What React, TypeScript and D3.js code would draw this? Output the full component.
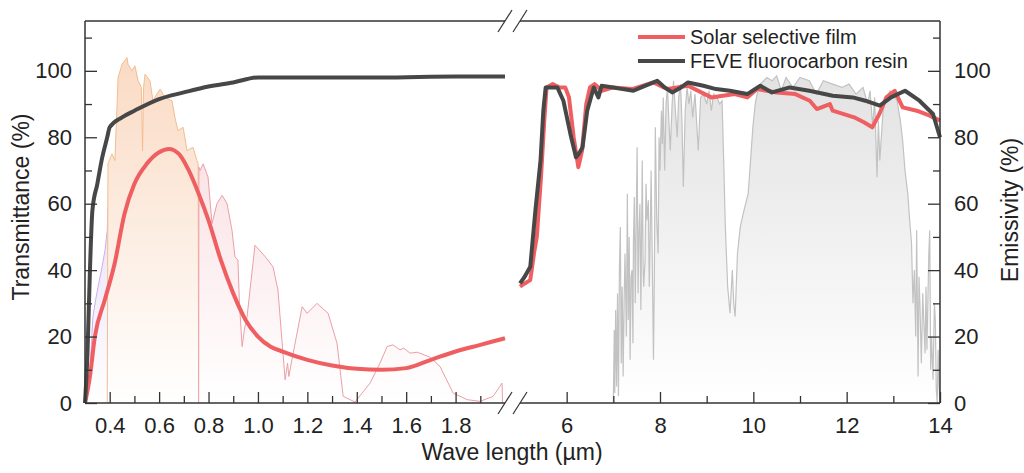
import React, { useEffect, useRef } from 'react';
import * as d3 from 'd3';

// solar spectrum bands, [wavelength µm, relative value]
const uvBand: [number, number][] = [
  [0.3, 0], [0.31, 2], [0.32, 10], [0.332, 26], [0.343, 31], [0.353, 35], [0.369, 41],
  [0.381, 46], [0.39, 52], [0.395, 62], [0.399, 62], [0.4, 0],
];
const visBand: [number, number][] = [
  [0.39, 0], [0.393, 72], [0.409, 75], [0.421, 73], [0.434, 98], [0.45, 102], [0.47, 104],
  [0.474, 102], [0.49, 100], [0.502, 101.5], [0.515, 97], [0.528, 95], [0.533, 76], [0.537, 95],
  [0.543, 99], [0.563, 97], [0.575, 91], [0.591, 93], [0.604, 94.5], [0.624, 92], [0.652, 91],
  [0.664, 86], [0.676, 82], [0.697, 83], [0.713, 76], [0.737, 77], [0.753, 73], [0.758, 72], [0.76, 0],
];
const nirBand: [number, number][] = [
  [0.76, 0], [0.761, 71], [0.766, 70], [0.778, 72], [0.798, 68], [0.814, 54], [0.834, 60],
  [0.855, 62.5], [0.875, 60], [0.895, 52], [0.907, 44], [0.919, 43], [0.925, 30], [0.936, 17],
  [0.945, 22], [0.956, 26], [0.988, 47.5], [1.03, 44], [1.061, 41], [1.081, 34], [1.11, 7],
  [1.12, 12], [1.125, 8], [1.14, 14], [1.179, 29], [1.199, 27], [1.239, 30], [1.284, 27],
  [1.32, 18], [1.345, 2], [1.393, 0.3], [1.454, 6], [1.494, 12], [1.523, 17], [1.547, 17.5],
  [1.575, 16], [1.59, 16.5], [1.616, 15], [1.644, 15.3], [1.697, 13.8], [1.737, 11], [1.79, 3],
  [1.847, 1], [1.899, 0.5], [1.952, 2], [1.988, 6], [1.99, 0],
];

// atmospheric window (grey)
const atmWindow: [number, number][] = [
  [7.0, 0], [7.02, 22], [7.03, 3], [7.05, 28], [7.07, 5], [7.09, 33], [7.11, 2], [7.13, 40],
  [7.15, 53], [7.17, 12], [7.19, 35], [7.21, 8], [7.23, 30], [7.25, 45], [7.28, 20], [7.3, 63],
  [7.32, 25], [7.34, 50], [7.36, 13], [7.38, 38], [7.4, 40], [7.42, 18], [7.43, 48], [7.45, 62],
  [7.47, 30], [7.49, 55], [7.51, 77], [7.53, 33], [7.55, 52], [7.57, 60], [7.59, 28], [7.62, 73],
  [7.64, 40], [7.65, 35], [7.68, 43], [7.7, 66], [7.72, 55], [7.75, 61], [7.77, 35], [7.79, 51],
  [7.81, 70], [7.83, 48], [7.86, 13], [7.88, 40], [7.9, 83], [7.93, 55], [7.96, 45], [7.98, 80],
  [8.0, 70], [8.03, 88], [8.05, 78], [8.07, 92], [8.1, 70], [8.13, 90], [8.16, 95], [8.19, 85],
  [8.22, 76], [8.26, 90], [8.29, 97], [8.33, 88], [8.37, 80], [8.4, 92], [8.44, 96], [8.47, 85],
  [8.5, 65], [8.54, 88], [8.58, 95], [8.62, 90], [8.66, 94], [8.7, 86], [8.75, 93], [8.82, 76],
  [8.87, 92], [8.93, 93], [9.0, 90], [9.05, 94], [9.1, 88], [9.15, 93], [9.22, 92], [9.28, 90],
  [9.33, 91], [9.37, 70], [9.4, 53], [9.45, 35], [9.5, 27], [9.55, 40], [9.58, 30], [9.61, 26],
  [9.66, 45], [9.72, 53], [9.8, 58], [9.89, 63], [9.95, 75], [9.99, 83], [10.04, 90], [10.08, 93],
  [10.15, 96], [10.29, 98], [10.4, 97], [10.5, 98.5], [10.6, 94], [10.7, 98], [10.85, 95],
  [11.0, 98], [11.2, 97], [11.35, 93], [11.5, 97], [11.7, 96], [11.9, 95], [12.05, 96],
  [12.2, 93], [12.35, 95], [12.45, 90], [12.5, 94], [12.56, 83], [12.6, 92], [12.65, 68],
  [12.68, 85], [12.71, 73], [12.78, 88], [12.85, 92], [12.93, 94], [13.0, 93], [13.08, 91],
  [13.15, 85], [13.2, 79], [13.25, 70], [13.31, 63], [13.35, 55], [13.39, 48], [13.42, 30],
  [13.45, 40], [13.48, 20], [13.5, 52], [13.53, 8], [13.55, 38], [13.57, 30], [13.6, 12],
  [13.63, 33], [13.66, 22], [13.68, 15], [13.7, 35], [13.72, 16], [13.76, 45], [13.78, 52],
  [13.8, 10], [13.82, 20], [13.85, 7], [13.88, 30], [13.9, 25], [13.92, 4], [13.94, 0],
  [13.96, 16], [13.98, 5], [14.0, 0],
];

// transmittance, 0.3-2.0 µm
const filmTransVis: [number, number][] = [
  [0.3, 0], [0.32, 8], [0.34, 20], [0.38, 31], [0.42, 42], [0.46, 57], [0.5, 66], [0.55, 72],
  [0.6, 75.5], [0.64, 76.5], [0.68, 75], [0.72, 70], [0.76, 63], [0.8, 55], [0.85, 43], [0.9, 33],
  [0.95, 25], [1.0, 20], [1.05, 17], [1.1, 15.5], [1.2, 13], [1.3, 11.3], [1.4, 10.3], [1.5, 10],
  [1.6, 10.5], [1.7, 13], [1.8, 15.5], [1.9, 17.5], [2.0, 19.5],
];
const resinTransVis: [number, number][] = [
  [0.3, 0], [0.31, 15], [0.32, 40], [0.33, 58], [0.35, 66], [0.37, 74], [0.39, 80], [0.4, 83],
  [0.45, 86], [0.5, 88], [0.6, 91.5], [0.7, 93.5], [0.8, 95.3], [0.9, 96.5], [1.0, 98],
  [1.2, 98], [1.5, 98], [1.8, 98.3], [2.0, 98.3],
];

// emissivity, 5-14 µm
const filmEmis: [number, number][] = [
  [5.0, 35], [5.1, 36], [5.22, 37], [5.3, 45], [5.36, 50], [5.45, 68], [5.52, 85], [5.57, 95],
  [5.7, 96], [5.85, 95], [5.97, 95], [6.05, 92], [6.15, 80], [6.25, 71], [6.33, 76], [6.42, 90],
  [6.5, 95], [6.6, 96], [6.75, 94], [7.0, 95], [7.4, 94.5], [7.86, 96.5], [8.16, 94.5],
  [8.6, 95.5], [9.1, 92], [9.6, 93], [9.87, 92], [10.08, 94.5], [10.5, 93.5], [10.9, 93],
  [11.21, 91], [11.36, 88.5], [11.64, 90], [11.7, 88], [12.16, 86], [12.37, 84.5], [12.55, 83],
  [12.7, 87], [12.85, 92], [13.03, 94], [13.2, 89], [13.5, 88], [13.78, 86.5], [14.0, 85],
];
const resinEmis: [number, number][] = [
  [5.0, 36], [5.1, 38], [5.22, 41], [5.33, 58], [5.44, 73], [5.5, 88], [5.55, 95], [5.7, 95],
  [5.8, 95], [5.93, 91], [6.08, 81], [6.2, 74], [6.26, 75], [6.34, 77], [6.44, 88], [6.58, 95],
  [6.68, 92], [6.75, 95.5], [7.0, 95], [7.2, 94.5], [7.43, 94], [7.6, 95], [7.86, 96.5],
  [7.94, 97], [8.1, 95], [8.26, 93.5], [8.45, 95], [8.6, 96.5], [8.93, 95.5], [9.2, 94.5],
  [9.5, 94], [9.87, 93], [10.15, 95.5], [10.4, 93.5], [10.78, 95], [11.2, 94], [11.7, 92.5],
  [12.13, 92], [12.4, 91], [12.71, 89.5], [12.95, 92], [13.25, 94], [13.56, 91], [13.85, 87],
  [14.0, 80],
];

const leftMajor = [0.4, 0.6, 0.8, 1.0, 1.2, 1.4, 1.6, 1.8];
const leftMinor = [0.5, 0.7, 0.9, 1.1, 1.3, 1.5, 1.7, 1.9];
const rightMajor = [6, 8, 10, 12, 14];
const rightMinor = [7, 9, 11, 13];
const yMajor = [0, 20, 40, 60, 80, 100];
const yMinor = [10, 30, 50, 70, 90, 110];

const legendItems = [
  { label: 'Solar selective film', color: '#ef5f62' },
  { label: 'FEVE fluorocarbon resin', color: '#474747' },
];

const FONT = '"Liberation Sans", Arial, sans-serif';

export default function App() {
  const ref = useRef<SVGSVGElement>(null);

  useEffect(() => {
    const svg = d3.select(ref.current);
    svg.selectAll('*').remove();

    const top = 21;
    const bottom = 403;
    const xL = d3.scaleLinear().domain([0.3, 2.0]).range([85, 505]);
    const xR = d3.scaleLinear().domain([5, 14]).range([520, 940]);
    const y = d3.scaleLinear().domain([0, 115]).range([bottom, top]);

    const defs = svg.append('defs');
    const grad = (id: string, color: string) => {
      const g = defs.append('linearGradient').attr('id', id)
        .attr('gradientUnits', 'userSpaceOnUse')
        .attr('x1', 0).attr('x2', 0).attr('y1', y(100)).attr('y2', y(0));
      g.append('stop').attr('offset', 0).attr('stop-color', color);
      g.append('stop').attr('offset', 1).attr('stop-color', '#ffffff');
    };
    grad('gUv', '#dccbf4');
    grad('gVis', '#fadcc6');
    grad('gNir', '#f8d8dc');
    grad('gAtm', '#e2e2e2');

    const areaL = d3.area<[number, number]>().x(d => xL(d[0])).y0(y(0)).y1(d => y(d[1]));
    const areaR = d3.area<[number, number]>().x(d => xR(d[0])).y0(y(0)).y1(d => y(d[1]));
    const lineL = d3.line<[number, number]>().x(d => xL(d[0])).y(d => y(d[1]));
    const smoothL = d3.line<[number, number]>().x(d => xL(d[0])).y(d => y(d[1])).curve(d3.curveMonotoneX);
    const lineR = d3.line<[number, number]>().x(d => xR(d[0])).y(d => y(d[1]));

    const bands: [[number, number][], string, string][] = [
      [uvBand, 'gUv', '#c9b0ee'],
      [visBand, 'gVis', '#f3bd90'],
      [nirBand, 'gNir', '#eb9fa6'],
    ];
    bands.forEach(([data, id, stroke]) => {
      svg.append('path').attr('d', areaL(data)).attr('fill', `url(#${id})`);
      svg.append('path').attr('d', lineL(data)).attr('fill', 'none')
        .attr('stroke', stroke).attr('stroke-width', 1);
    });

    svg.append('path').attr('d', areaR(atmWindow)).attr('fill', 'url(#gAtm)');
    svg.append('path').attr('d', lineR(atmWindow)).attr('fill', 'none')
      .attr('stroke', '#c2c2c2').attr('stroke-width', 1.2);

    const curve = (d: string | null, color: string) =>
      svg.append('path').attr('d', d).attr('fill', 'none').attr('stroke', color)
        .attr('stroke-width', 4).attr('stroke-linejoin', 'round');
    curve(smoothL(filmTransVis), legendItems[0].color);
    curve(smoothL(resinTransVis), legendItems[1].color);
    curve(lineR(filmEmis), legendItems[0].color);
    curve(lineR(resinEmis), legendItems[1].color);

    // axes
    const styleAxis = (g: d3.Selection<SVGGElement, unknown, null, undefined>) => {
      g.select('.domain').remove();
      g.attr('font-size', 22).attr('font-family', FONT).attr('color', '#222');
      g.selectAll('line').attr('stroke', '#333').attr('stroke-width', 1.3);
    };
    svg.append('g').attr('transform', `translate(0,${bottom})`)
      .call(d3.axisBottom(xL).tickValues(leftMajor).tickSize(-11).tickPadding(14).tickFormat(d3.format('.1f')))
      .call(styleAxis);
    svg.append('g').attr('transform', `translate(0,${bottom})`)
      .call(d3.axisBottom(xL).tickValues(leftMinor).tickSize(-7).tickFormat(() => ''))
      .call(styleAxis);
    svg.append('g').attr('transform', `translate(0,${bottom})`)
      .call(d3.axisBottom(xR).tickValues(rightMajor).tickSize(-11).tickPadding(14).tickFormat(d3.format('d')))
      .call(styleAxis);
    svg.append('g').attr('transform', `translate(0,${bottom})`)
      .call(d3.axisBottom(xR).tickValues(rightMinor).tickSize(-7).tickFormat(() => ''))
      .call(styleAxis);
    svg.append('g').attr('transform', 'translate(85,0)')
      .call(d3.axisLeft(y).tickValues(yMajor).tickSize(-12).tickPadding(13))
      .call(styleAxis);
    svg.append('g').attr('transform', 'translate(85,0)')
      .call(d3.axisLeft(y).tickValues(yMinor).tickSize(-7).tickFormat(() => ''))
      .call(styleAxis);
    svg.append('g').attr('transform', 'translate(940,0)')
      .call(d3.axisRight(y).tickValues(yMajor).tickSize(-12).tickPadding(14))
      .call(styleAxis);
    svg.append('g').attr('transform', 'translate(940,0)')
      .call(d3.axisRight(y).tickValues(yMinor).tickSize(-7).tickFormat(() => ''))
      .call(styleAxis);

    // frame with axis break
    const frame = svg.append('g').attr('stroke', '#333').attr('stroke-width', 1.5).attr('fill', 'none');
    const seg = (x1: number, y1: number, x2: number, y2: number) =>
      frame.append('line').attr('x1', x1).attr('y1', y1).attr('x2', x2).attr('y2', y2);
    seg(85, top, 85, bottom);
    seg(940, top, 940, bottom);
    [top, bottom].forEach(yy => {
      seg(85, yy, xL(2.0), yy);
      seg(xR(5), yy, 940, yy);
      [xL(2.0), xR(5)].forEach(bx => seg(bx - 7, yy + 11, bx + 7, yy - 11).attr('stroke-width', 1.2));
    });

    // titles
    svg.append('text').attr('x', 512).attr('y', 460).attr('text-anchor', 'middle')
      .attr('font-size', 23).attr('font-family', FONT).attr('fill', '#222').text('Wave length (µm)');
    svg.append('text').attr('transform', 'translate(29,207) rotate(-90)').attr('text-anchor', 'middle')
      .attr('font-size', 23).attr('font-family', FONT).attr('fill', '#222').text('Transmittance (%)');
    svg.append('text').attr('transform', 'translate(1018,210) rotate(-90)').attr('text-anchor', 'middle')
      .attr('font-size', 23).attr('font-family', FONT).attr('fill', '#222').text('Emissivity (%)');

    // legend
    const legend = svg.append('g');
    legendItems.forEach((item, i) => {
      const ly = 37 + i * 24;
      legend.append('line').attr('x1', 638).attr('x2', 685).attr('y1', ly).attr('y2', ly)
        .attr('stroke', item.color).attr('stroke-width', 4);
      legend.append('text').attr('x', 690).attr('y', ly + 7).attr('font-size', 20)
        .attr('font-family', FONT).attr('fill', '#222').text(item.label);
    });
  }, []);

  return (
    <div style={{ position: 'absolute', left: 0, top: 0 }}>
      <svg ref={ref} width={1024} height={473} style={{ display: 'block', background: '#fff' }} />
    </div>
  );
}
